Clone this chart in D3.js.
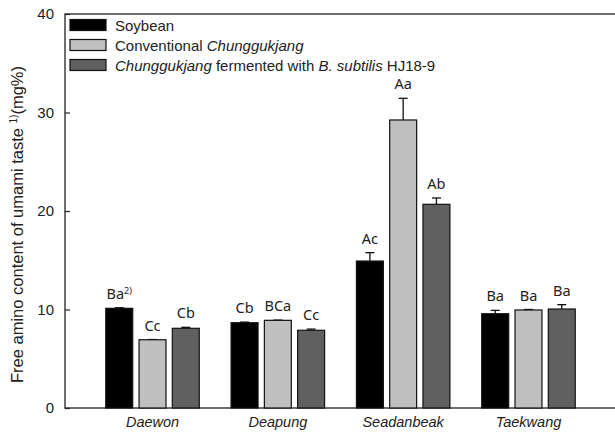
<!DOCTYPE html>
<html>
<head>
<meta charset="utf-8">
<script src="https://cdn.jsdelivr.net/npm/d3@7"></script>
<style>
  body { margin: 0; background: #fff; }
  text { font-family: "Liberation Sans", Arial, sans-serif; }
  .lbl { font-family: "Noto Sans", "Open Sans", sans-serif; }
</style>
</head>
<body>
<div class="vis"></div>
<script>
// frame dimensions
const FRAME_WIDTH = 615;
const FRAME_HEIGHT = 434;
const MARGINS = {left: 65, top: 14, bottom: 26};

// data
const cultivars = ['Daewon', 'Deapung', 'Seadanbeak', 'Taekwang'];
const series = ['Soybean', 'Conventional', 'Fermented'];
const soybean = [10.12, 8.66, 14.92, 9.57];
const soybean_sd = [0.06, 0.06, 0.85, 0.34];
const conventional = [6.93, 8.9, 29.24, 9.95];
const conventional_sd = [0.02, 0.02, 2.2, 0.05];
const fermented = [8.09, 7.89, 20.68, 10.05];
const fermented_sd = [0.1, 0.12, 0.64, 0.44];
const soybean_lbl = ['Ba', 'Cb', 'Ac', 'Ba'];
const conventional_lbl = ['Cc', 'BCa', 'Aa', 'Ba'];
const fermented_lbl = ['Cb', 'Cc', 'Ab', 'Ba'];
const y_ticks = [0, 10, 20, 30, 40];

const colors = {Soybean: '#000000', Conventional: '#c0c0c0', Fermented: '#606060'};

// build rows for drawing
const rows = [];
cultivars.forEach((c, i) => {
  rows.push({cultivar: c, s: 'Soybean', v: soybean[i], sd: soybean_sd[i], lbl: soybean_lbl[i]});
  rows.push({cultivar: c, s: 'Conventional', v: conventional[i], sd: conventional_sd[i], lbl: conventional_lbl[i]});
  rows.push({cultivar: c, s: 'Fermented', v: fermented[i], sd: fermented_sd[i], lbl: fermented_lbl[i]});
});

const svg = d3.select('.vis')
  .append('svg')
    .attr('width', FRAME_WIDTH)
    .attr('height', FRAME_HEIGHT);

// scales
const yscale = d3.scaleLinear()
  .domain([0, 40])
  .range([FRAME_HEIGHT - MARGINS.bottom, MARGINS.top]);

const x0 = d3.scaleBand()
  .domain(cultivars)
  .range([89.85, 591.15])
  .paddingInner(0.254)
  .paddingOuter(0.127);

const x1 = d3.scaleBand()
  .domain(series)
  .range([0, x0.bandwidth()])
  .paddingInner(0.19);

// frame (right side runs past the picture edge)
svg.append('rect')
  .attr('x', MARGINS.left)
  .attr('y', yscale(40))
  .attr('width', 700)
  .attr('height', yscale(0) - yscale(40))
  .attr('fill', 'none')
  .attr('stroke', '#222')
  .attr('stroke-width', 1.3);

// y axis, ticks inward
const yaxis = svg.append('g')
  .attr('transform', 'translate(' + MARGINS.left + ',0)')
  .call(d3.axisLeft(yscale).tickValues(y_ticks).tickSizeInner(-5).tickSizeOuter(0).tickPadding(11));
yaxis.select('.domain').remove();
yaxis.selectAll('line').attr('stroke', '#222').attr('stroke-width', 1.2);
yaxis.selectAll('text')
  .attr('font-size', '15px')
  .attr('fill', '#222')
  .style('font-family', '"Liberation Sans", Arial, sans-serif');

// y title
const ytitle = svg.append('text')
  .attr('transform', 'translate(23,383) rotate(-90)')
  .attr('text-anchor', 'start')
  .attr('font-size', '16.5px')
  .attr('fill', '#222');
ytitle.append('tspan').text('Free amino content of umami taste ');
ytitle.append('tspan').attr('font-size', '10px').attr('dy', -6).text('1)');
ytitle.append('tspan').attr('dy', 6).text('(mg%)');

// x labels
svg.selectAll('.xlab')
  .data(cultivars)
  .enter().append('text')
    .attr('class', 'xlab')
    .attr('x', (d) => x0(d) + x0.bandwidth() / 2)
    .attr('y', 427)
    .attr('text-anchor', 'middle')
    .attr('font-size', '14.5px')
    .attr('font-style', 'italic')
    .attr('fill', '#222')
    .text((d) => d);

// bars
const bars = svg.selectAll('.bar')
  .data(rows)
  .enter().append('g')
    .attr('transform', (d) => 'translate(' + (x0(d.cultivar) + x1(d.s)) + ',0)');

// error bars (upper only)
bars.append('line')
  .attr('x1', x1.bandwidth() / 2)
  .attr('x2', x1.bandwidth() / 2)
  .attr('y1', (d) => yscale(d.v))
  .attr('y2', (d) => yscale(d.v + d.sd))
  .attr('stroke', '#111')
  .attr('stroke-width', 1.3);
bars.append('line')
  .attr('x1', x1.bandwidth() / 2 - 4.5)
  .attr('x2', x1.bandwidth() / 2 + 4.5)
  .attr('y1', (d) => yscale(d.v + d.sd))
  .attr('y2', (d) => yscale(d.v + d.sd))
  .attr('stroke', '#111')
  .attr('stroke-width', 1.3);

bars.append('rect')
  .attr('x', 0)
  .attr('y', (d) => yscale(d.v))
  .attr('width', x1.bandwidth())
  .attr('height', (d) => yscale(0) - yscale(d.v))
  .attr('fill', (d) => colors[d.s])
  .attr('stroke', '#111')
  .attr('stroke-width', 1.2);

// significance letters
const lbls = bars.append('text')
  .attr('class', 'lbl')
  .attr('x', x1.bandwidth() / 2)
  .attr('y', (d) => yscale(d.v + d.sd) - 9)
  .attr('text-anchor', 'middle')
  .attr('font-size', '14.5px')
  .attr('fill', '#222');
lbls.append('tspan').text((d) => d.lbl);
lbls.filter((d, i) => i === 0)
  .append('tspan')
    .attr('font-size', '9px')
    .attr('dy', -5)
    .text('2)');

// legend
const legend_text = [
  [{t: 'Soybean'}],
  [{t: 'Conventional '}, {t: 'Chunggukjang', i: true}],
  [{t: 'Chunggukjang', i: true}, {t: ' fermented with '}, {t: 'B. subtilis', i: true}, {t: ' HJ18-9'}]
];
const leg = svg.selectAll('.leg')
  .data(series)
  .enter().append('g')
    .attr('transform', (d, i) => 'translate(70,' + (19.5 + i * 20) + ')');
leg.append('rect')
  .attr('width', 36)
  .attr('height', 11)
  .attr('fill', (d) => colors[d])
  .attr('stroke', '#111')
  .attr('stroke-width', 1.2);
leg.append('text')
  .attr('x', 45)
  .attr('y', 11)
  .attr('font-size', '15px')
  .attr('fill', '#222')
  .each(function (d, i) {
    const t = d3.select(this);
    legend_text[i].forEach((p) => {
      t.append('tspan').attr('font-style', p.i ? 'italic' : 'normal').text(p.t);
    });
  });
</script>
</body>
</html>
